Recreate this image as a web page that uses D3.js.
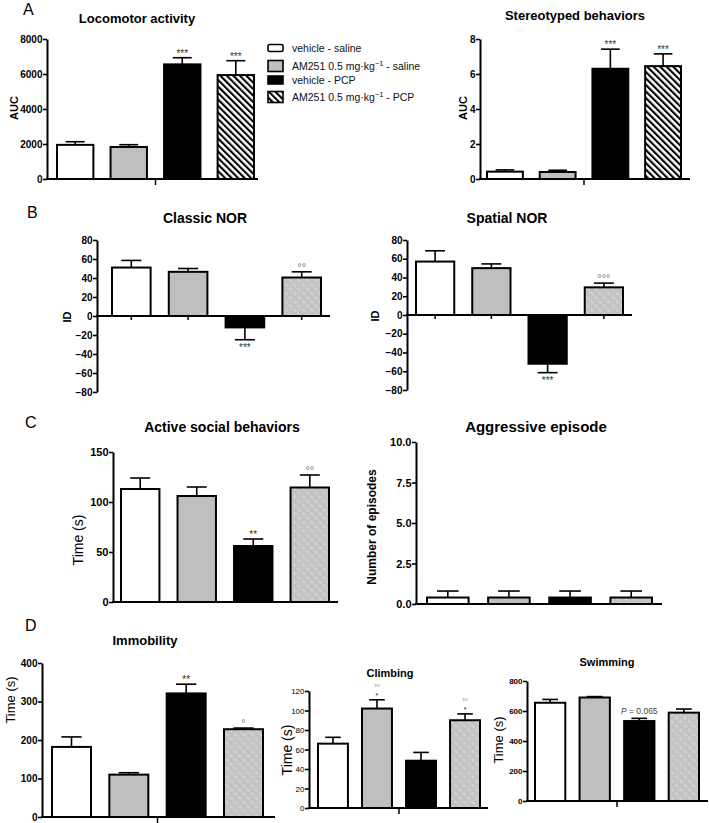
<!DOCTYPE html>
<html><head><meta charset="utf-8">
<script src="https://cdn.jsdelivr.net/npm/d3@7"></script>
<style>body{margin:0;background:#fff} svg{display:block} text{font-family:"Liberation Sans",Arial,sans-serif}</style>
</head><body><svg id="c" width="709" height="823"></svg>
<script>
// ---------- data ----------
const groups = ["vehicle - saline", "AM251 - saline", "vehicle - PCP", "AM251 - PCP"];

const locomotorMean = [1950, 1830, 6550, 5940];
const locomotorSem  = [180, 130, 380, 820];
const locomotorSig  = ["", "", "***", "***"];
const locomotorTicks = [0, 2000, 4000, 6000, 8000];

const stereoMean = [0.42, 0.40, 6.30, 6.45];
const stereoSem  = [0.10, 0.10, 1.12, 0.70];
const stereoSig  = ["", "", "***", "***"];
const stereoTicks = [0, 2, 4, 6, 8];

const classicMean = [51, 46.5, -12, 40.5];
const classicSem  = [7.5, 3.5, 13, 6];
const classicSig  = ["", "", "***", "°°"];

const spatialMean = [57, 50, -52, 29.5];
const spatialSem  = [11.5, 4.5, 9.5, 4.5];
const spatialSig  = ["", "", "***", "°°°"];
const norTicks = [-80, -60, -40, -20, 0, 20, 40, 60, 80];

const socialMean = [113, 106, 56, 114.5];
const socialSem  = [11, 9, 7, 12.5];
const socialSig  = ["", "", "**", "°°"];
const socialTicks = [0, 50, 100, 150];

const aggrMean = [0.4, 0.4, 0.4, 0.4];
const aggrSem  = [0.4, 0.4, 0.4, 0.4];
const aggrSig  = ["", "", "", ""];
const aggrTicks = [0, 2.5, 5, 7.5, 10];

const immobMean = [182, 110, 321, 228];
const immobSem  = [26, 5, 24, 3];
const immobSig  = ["", "", "**", "°"];
const immobTicks = [0, 100, 200, 300, 400];

const climbMean = [66, 102, 48.5, 90];
const climbSem  = [6.5, 9, 8.5, 6.5];
const climbSig  = ["", "°°|*", "", "°°|*"];
const climbTicks = [0, 20, 40, 60, 80, 100, 120];

const swimMean = [655, 690, 533, 589];
const swimSem  = [22, 6, 18, 24];
const swimSig  = ["", "", "P|= 0.065", ""];
const swimTicks = [0, 200, 400, 600, 800];

const legendLabels = [
  ["vehicle - saline"],
  ["AM251 0.5 mg·kg", "−1", " - saline"],
  ["vehicle - PCP"],
  ["AM251 0.5 mg·kg", "−1", " - PCP"]
];

// ---------- layout (pixel boxes) ----------
const panels = [
  {title:"Locomotor activity", mean:locomotorMean, sem:locomotorSem, sig:locomotorSig, ticks:locomotorTicks, fmt:d3.format("d"),
   axisX:47, xEnd:258, yPix:[179,39], dom:[0,8000], bars:[57,254], tx:137, ty:22.5, ts:13, ylab:"AUC", yx:14, yy:108, ys:11, yw:"bold", tfs:10, tfw:"bold", xt:"center", hatch:"bw"},
  {title:"Stereotyped behaviors", mean:stereoMean, sem:stereoSem, sig:stereoSig, ticks:stereoTicks, fmt:d3.format("d"),
   axisX:480, xEnd:690, yPix:[179,39], dom:[0,8], bars:[487,681], tx:575, ty:20, ts:13, ylab:"AUC", yx:463, yy:108, ys:11, yw:"bold", tfs:10, tfw:"bold", xt:"center", hatch:"bw"},
  {title:"Classic NOR", mean:classicMean, sem:classicSem, sig:classicSig, ticks:norTicks, fmt:d3.format("d"),
   axisX:97, xEnd:330, yPix:[392,240], dom:[-80,80], bars:[112,321], tx:205, ty:223, ts:14, ylab:"ID", yx:67, yy:317, ys:11, yw:"bold", tfs:10, tfw:"bold", xt:"bars", hatch:"gray"},
  {title:"Spatial NOR", mean:spatialMean, sem:spatialSem, sig:spatialSig, ticks:norTicks, fmt:d3.format("d"),
   axisX:407, xEnd:632, yPix:[390,240], dom:[-80,80], bars:[416,623], tx:507, ty:223, ts:14, ylab:"ID", yx:375, yy:316, ys:11, yw:"bold", tfs:10, tfw:"bold", xt:"bars", hatch:"gray"},
  {title:"Active social behaviors", mean:socialMean, sem:socialSem, sig:socialSig, ticks:socialTicks, fmt:d3.format("d"),
   axisX:113, xEnd:338, yPix:[602,452], dom:[0,150], bars:[121,329], tx:222, ty:432, ts:14, ylab:"Time (s)", yx:78, yy:540, ys:14, yw:"normal", tfs:11, tfw:"bold", xt:"none", hatch:"gray"},
  {title:"Aggressive episode", mean:aggrMean, sem:aggrSem, sig:aggrSig, ticks:aggrTicks, fmt:d3.format(".1f"),
   axisX:416, xEnd:662, yPix:[604,442], dom:[0,10], bars:[427,652], tx:536, ty:432, ts:15, ylab:"Number of episodes", yx:372, yy:527, ys:12, yw:"bold", tfs:11, tfw:"bold", xt:"none", hatch:"gray"},
  {title:"Immobility", mean:immobMean, sem:immobSem, sig:immobSig, ticks:immobTicks, fmt:d3.format("d"),
   axisX:42, xEnd:275, yPix:[817,663], dom:[0,400], bars:[52,263], tx:145, ty:645, ts:13, ylab:"Time (s)", yx:10, yy:700, ys:13, yw:"normal", tfs:10, tfw:"bold", xt:"center", hatch:"gray"},
  {title:"Climbing", mean:climbMean, sem:climbSem, sig:climbSig, ticks:climbTicks, fmt:d3.format("d"),
   axisX:309, xEnd:488, yPix:[808,691], dom:[0,120], bars:[318,480], tx:390, ty:677, ts:11, ylab:"Time (s)", yx:287, yy:750, ys:14, yw:"normal", tfs:8, tfw:"normal", xt:"center", hatch:"gray"},
  {title:"Swimming", mean:swimMean, sem:swimSem, sig:swimSig, ticks:swimTicks, fmt:d3.format("d"),
   axisX:527, xEnd:708, yPix:[801,681], dom:[0,800], bars:[535,699], tx:607, ty:666, ts:11, ylab:"Time (s)", yx:498, yy:740, ys:13, yw:"normal", tfs:8, tfw:"bold", xt:"center", hatch:"gray"}
];
const letters = [["A",23,15],["B",27,218],["C",25,428],["D",25,631]];

// ---------- drawing ----------
const svg = d3.select("#c");
const defs = svg.append("defs");
const bw = defs.append("pattern").attr("id","hatchBW").attr("patternUnits","userSpaceOnUse")
  .attr("width",4.6).attr("height",4.6).attr("patternTransform","rotate(-45)");
bw.append("rect").attr("width",4.6).attr("height",4.6).attr("fill","#fff");
bw.append("rect").attr("width",2.1).attr("height",4.6).attr("fill","#000");
const gp = defs.append("pattern").attr("id","hatchGray").attr("patternUnits","userSpaceOnUse")
  .attr("width",6).attr("height",6).attr("patternTransform","rotate(-45)");
gp.append("rect").attr("width",6).attr("height",6).attr("fill","#c3c3c3");
gp.append("line").attr("x1",1).attr("x2",1).attr("y1",0).attr("y2",4).attr("stroke","#e2e2e2").attr("stroke-width",1);

function fillFor(i, hatch){
  if(i===0) return "#fff";
  if(i===1) return "#bfbfbf";
  if(i===2) return "#000";
  return hatch==="bw" ? "url(#hatchBW)" : "url(#hatchGray)";
}

panels.forEach(p => {
  const g = svg.append("g");
  const x = d3.scaleBand().domain(groups).range(p.bars).paddingInner(0.32).paddingOuter(0);
  const y = d3.scaleLinear().domain(p.dom).range(p.yPix);
  const y0 = y(Math.max(0, p.dom[0]));

  // bars
  g.selectAll("rect.bar").data(groups).join("rect")
    .attr("x", d => x(d))
    .attr("width", x.bandwidth())
    .attr("y", (d,i) => Math.min(y(p.mean[i]), y0))
    .attr("height", (d,i) => Math.abs(y(p.mean[i]) - y0))
    .attr("fill", (d,i) => fillFor(i, p.hatch))
    .attr("stroke", "#000").attr("stroke-width", 2);

  // error bars
  const cap = x.bandwidth()*0.26;
  groups.forEach((d,i) => {
    const cx = x(d) + x.bandwidth()/2;
    const m = p.mean[i], s = p.sem[i];
    const e = m >= 0 ? m + s : m - s;
    g.append("line").attr("x1",cx).attr("x2",cx).attr("y1",y(m)).attr("y2",y(e)).attr("stroke","#000").attr("stroke-width",1.6);
    g.append("line").attr("x1",cx-cap).attr("x2",cx+cap).attr("y1",y(e)).attr("y2",y(e)).attr("stroke","#000").attr("stroke-width",1.6);
    const sg = p.sig[i];
    if(!sg) return;
    if(m < 0){
      g.append("text").attr("x",cx).attr("y",y(e)+11).attr("text-anchor","middle").attr("font-size",10).attr("fill","#333").text(sg);
    } else if(sg.startsWith("P|")){
      const t = g.append("text").attr("x",cx).attr("y",y(e)-4).attr("text-anchor","middle").attr("font-size",8.5).attr("fill","#444");
      t.append("tspan").attr("font-style","italic").text("P");
      t.append("tspan").text(" " + sg.split("|")[1]);
    } else if(sg.includes("|")){
      const parts = sg.split("|");
      g.append("text").attr("x",cx).attr("y",y(e)-10).attr("text-anchor","middle").attr("font-size",7).attr("fill","#666").text(parts[0]);
      g.append("text").attr("x",cx).attr("y",y(e)-1.5).attr("text-anchor","middle").attr("font-size",7).attr("fill","#222").text(parts[1]);
    } else if(sg.startsWith("*")){
      g.append("text").attr("x",cx).attr("y",y(e)-1).attr("text-anchor","middle").attr("font-size",10).attr("fill","#333").text(sg);
    } else {
      g.append("text").attr("x",cx).attr("y",y(e)-1).attr("text-anchor","middle").attr("font-size",11).attr("fill","#777").text(sg);
    }
  });

  // y axis
  const ax = g.append("g").attr("transform",`translate(${p.axisX},0)`)
    .call(d3.axisLeft(y).tickValues(p.ticks).tickFormat(p.fmt).tickSize(4).tickSizeOuter(0).tickPadding(0.5));
  ax.select(".domain").attr("stroke-width",2);
  ax.selectAll(".tick line").attr("stroke-width",1.6);
  ax.selectAll(".tick text").attr("font-size",p.tfs).attr("font-weight",p.tfw)
    .attr("font-family",'"Liberation Sans",Arial,sans-serif').attr("fill","#000");

  // x baseline
  g.append("line").attr("x1",p.axisX-1).attr("x2",p.xEnd).attr("y1",y0).attr("y2",y0).attr("stroke","#000").attr("stroke-width",2);
  if(p.xt === "center"){
    const mid = (p.bars[0]+p.bars[1])/2;
    g.append("line").attr("x1",mid).attr("x2",mid).attr("y1",y0).attr("y2",y0+6).attr("stroke","#000").attr("stroke-width",1.5);
  } else if(p.xt === "bars"){
    groups.forEach(d => {
      const cx = x(d)+x.bandwidth()/2;
      g.append("line").attr("x1",cx).attr("x2",cx).attr("y1",y0).attr("y2",y0+4).attr("stroke","#000").attr("stroke-width",1.5);
    });
  }

  // titles
  g.append("text").attr("x",p.tx).attr("y",p.ty).attr("text-anchor","middle").attr("font-size",p.ts).attr("font-weight","bold").text(p.title);
  g.append("text").attr("transform",`translate(${p.yx},${p.yy}) rotate(-90)`).attr("text-anchor","middle").attr("dominant-baseline","central")
    .attr("font-size",p.ys).attr("font-weight",p.yw).text(p.ylab);
});

letters.forEach(([t,lx,ly]) => svg.append("text").attr("x",lx).attr("y",ly).attr("font-size",16).text(t));

// legend
const legY = [48, 66, 80, 97];
const legH = [7, 11, 8, 11];
legendLabels.forEach((lab,i) => {
  svg.append("rect").attr("x",268).attr("y",legY[i]-legH[i]/2).attr("width",15).attr("height",legH[i])
    .attr("rx", i===0 ? 1.5 : 0)
    .attr("fill", fillFor(i,"bw")).attr("stroke","#000").attr("stroke-width",1.6);
  const t = svg.append("text").attr("x",292).attr("y",legY[i]+3.8).attr("font-size",10.5).attr("fill","#111");
  t.append("tspan").text(lab[0]);
  if(lab.length>1){
    t.append("tspan").attr("dy",-4).attr("font-size",7.5).text(lab[1]);
    t.append("tspan").attr("dy",4).text(lab[2]);
  }
});
</script></body></html>
